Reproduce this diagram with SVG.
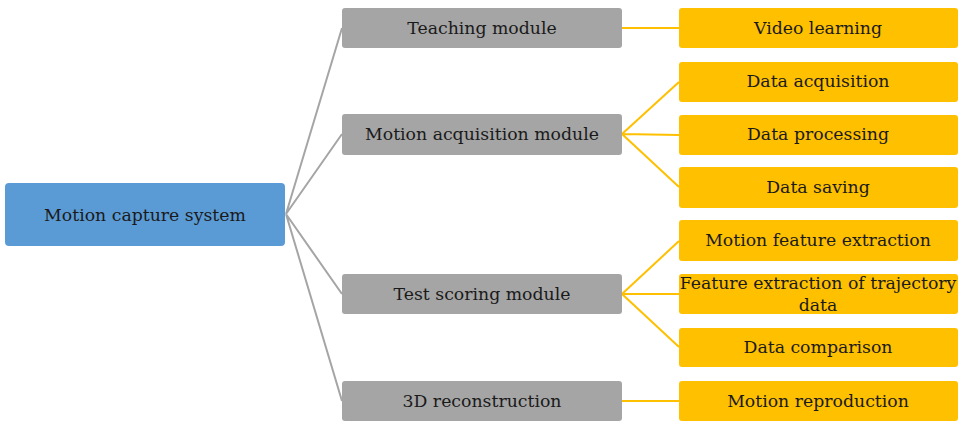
<svg xmlns="http://www.w3.org/2000/svg" width="962" height="422" viewBox="0 0 962 422">
<style>
.root{fill:#5B9BD5}
.mid{fill:#A5A5A5}
.leaf{fill:#FFC000}
text{font-family:'DejaVu Serif','Liberation Serif',serif;font-size:17.3px;fill:#1a1a1a;text-anchor:middle;dominant-baseline:central}
.g{stroke:#A5A5A5;stroke-width:2;fill:none}
.y{stroke:#FFC000;stroke-width:2;fill:none}
</style>
<rect width="962" height="422" fill="#ffffff"/>
<g id="connectors">
<path class="g" d="M286 214 L342 28 M286 214 L342 134 M286 214 L342 294 M286 214 L342 401"/>
<path class="y" d="M622 28 L679 28 M622 134 L679 82 M622 134 L679 135 M622 134 L679 187 M622 294 L679 241 M622 294 L679 294 M622 294 L679 347 M622 401 L679 401"/>
</g>
<g id="root"><rect class="root" x="5" y="183" width="280" height="63" rx="4"/><text x="145" y="214.5">Motion capture system</text></g>
<g id="teaching"><rect class="mid" x="342" y="8" width="280" height="40" rx="3"/><text x="482" y="28">Teaching module</text></g>
<g id="acquisition"><rect class="mid" x="342" y="114" width="280" height="41" rx="3"/><text x="482" y="134">Motion acquisition module</text></g>
<g id="scoring"><rect class="mid" x="342" y="274" width="280" height="40" rx="3"/><text x="482" y="294">Test scoring module</text></g>
<g id="recon"><rect class="mid" x="342" y="381" width="280" height="40" rx="3"/><text x="482" y="401">3D reconstruction</text></g>
<g id="video"><rect class="leaf" x="679" y="8" width="279" height="40" rx="3"/><text x="818" y="28">Video learning</text></g>
<g id="dacq"><rect class="leaf" x="679" y="62" width="279" height="40" rx="3"/><text x="818" y="81">Data acquisition</text></g>
<g id="dproc"><rect class="leaf" x="679" y="115" width="279" height="40" rx="3"/><text x="818" y="134">Data processing</text></g>
<g id="dsave"><rect class="leaf" x="679" y="167" width="279" height="41" rx="3"/><text x="818" y="187">Data saving</text></g>
<g id="mfe"><rect class="leaf" x="679" y="220" width="279" height="41" rx="3"/><text x="818" y="240">Motion feature extraction</text></g>
<g id="fetd"><rect class="leaf" x="679" y="274" width="279" height="40" rx="3"/><text x="818" y="283">Feature extraction of trajectory</text><text x="818" y="305">data</text></g>
<g id="dcomp"><rect class="leaf" x="679" y="328" width="279" height="39" rx="3"/><text x="818" y="347">Data comparison</text></g>
<g id="mrep"><rect class="leaf" x="679" y="381" width="279" height="40" rx="3"/><text x="818" y="401">Motion reproduction</text></g>
</svg>
